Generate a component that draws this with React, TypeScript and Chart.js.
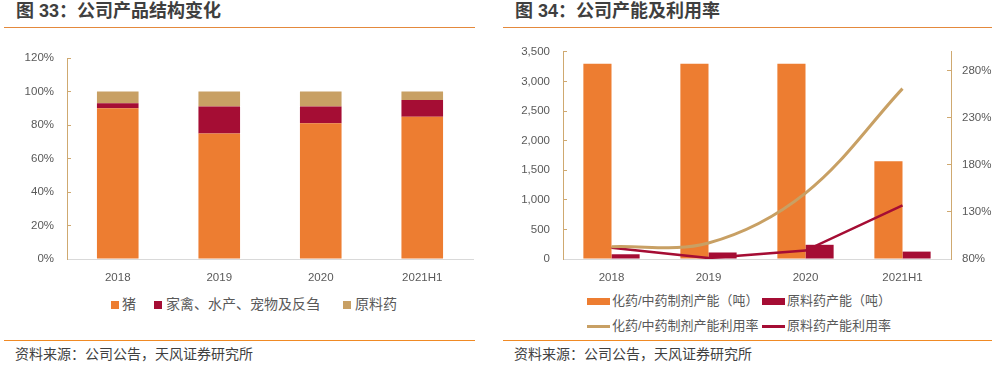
import React, { useEffect, useRef } from 'react';
import { Chart, registerables } from 'chart.js';

Chart.register(...registerables);

// ---------- Data: 图 33 公司产品结构变化 ----------
const structureCategories = ['2018', '2019', '2020', '2021H1'];
const pigShare = [90, 75, 81, 85];
const poultryEtcShare = [3, 16, 10, 10];
const apiShare = [7, 9, 9, 5];
const shareTickValues = [0, 20, 40, 60, 80, 100, 120];

// ---------- Data: 图 34 公司产能及利用率 ----------
const capacityCategories = ['2018', '2019', '2020', '2021H1'];
const prepCapacity = [3300, 3300, 3300, 1650];
const apiCapacity = [80, 110, 240, 125];
const prepUtilization = [93, 97, 150, 261];
const apiUtilization = [92, 81, 89, 137];
const capacityTickValues = [0, 500, 1000, 1500, 2000, 2500, 3000, 3500];
const utilizationTickValues = [80, 130, 180, 230, 280];

const ORANGE = '#ED7D31';
const RED = '#A50D34';
const TAN = '#C8A064';
const AXIS_TAN = '#CFA970';
const TEXT = '#595959';
const TICK_FONT = { family: '"Liberation Sans", Arial, sans-serif', size: 11.5 };
const CJK = '"Liberation Sans", "Noto Sans CJK SC", sans-serif';

function StructureChart() {
  const ref = useRef<HTMLCanvasElement | null>(null);
  useEffect(() => {
    if (!ref.current) return;
    const chart = new Chart(ref.current, {
      type: 'bar',
      data: {
        labels: structureCategories,
        datasets: [
          { label: '猪', data: pigShare, backgroundColor: ORANGE, borderWidth: 0 },
          { label: '家禽、水产、宠物及反刍', data: poultryEtcShare, backgroundColor: RED, borderWidth: 0 },
          { label: '原料药', data: apiShare, backgroundColor: TAN, borderWidth: 0 },
        ],
      },
      options: {
        responsive: false,
        animation: false,
        layout: { padding: { top: 30, right: 26, left: 0, bottom: 0 } },
        plugins: { legend: { display: false }, tooltip: { enabled: false } },
        datasets: { bar: { categoryPercentage: 1, barPercentage: 0.41 } },
        scales: {
          x: {
            stacked: true,
            grid: { display: false },
            border: { display: true, color: '#D9D9D9', width: 1 },
            ticks: { color: TEXT, font: TICK_FONT, padding: 4 },
            afterFit: (s: any) => { s.height = 31; },
          },
          y: {
            stacked: true,
            min: 0,
            max: 120,
            afterBuildTicks: (s: any) => { s.ticks = shareTickValues.map((v) => ({ value: v })); },
            grid: { drawOnChartArea: false, drawTicks: true, tickLength: -4, color: AXIS_TAN },
            border: { display: true, color: AXIS_TAN, width: 1 },
            ticks: { color: TEXT, font: TICK_FONT, padding: 17, callback: (v: any) => v + '%' },
            afterFit: (s: any) => { s.width = 67; },
          },
        },
      },
    });
    return () => chart.destroy();
  }, []);
  return <canvas ref={ref} width={499} height={262} style={{ position: 'absolute', left: 0, top: 28 }} />;
}

function CapacityChart() {
  const ref = useRef<HTMLCanvasElement | null>(null);
  useEffect(() => {
    if (!ref.current) return;
    const chart = new Chart(ref.current, {
      type: 'bar',
      data: {
        labels: capacityCategories,
        datasets: [
          { type: 'bar', label: '化药/中药制剂产能（吨）', data: prepCapacity, backgroundColor: ORANGE, borderWidth: 0, yAxisID: 'y', order: 1 },
          { type: 'bar', label: '原料药产能（吨）', data: apiCapacity, backgroundColor: RED, borderWidth: 0, yAxisID: 'y', order: 1 },
          { type: 'line', label: '化药/中药制剂产能利用率', data: prepUtilization, borderColor: TAN, backgroundColor: TAN, borderWidth: 3, pointRadius: 0, tension: 0.35, yAxisID: 'y1', order: 0 },
          { type: 'line', label: '原料药产能利用率', data: apiUtilization, borderColor: RED, backgroundColor: RED, borderWidth: 2.5, pointRadius: 0, tension: 0, yAxisID: 'y1', order: 0 },
        ] as any,
      },
      options: {
        responsive: false,
        animation: false,
        layout: { padding: { top: 15, right: 0, left: 0, bottom: 0 } },
        plugins: { legend: { display: false }, tooltip: { enabled: false } },
        datasets: { bar: { categoryPercentage: 0.58, barPercentage: 1 } },
        scales: {
          x: {
            grid: { display: false },
            border: { display: true, color: '#D9D9D9', width: 1 },
            ticks: { color: TEXT, font: TICK_FONT, padding: 4 },
            afterFit: (s: any) => { s.height = 31; },
          },
          y: {
            position: 'left',
            min: 0,
            max: 3500,
            afterBuildTicks: (s: any) => { s.ticks = capacityTickValues.map((v) => ({ value: v })); },
            grid: { drawOnChartArea: false, drawTicks: true, tickLength: -4, color: AXIS_TAN },
            border: { display: true, color: AXIS_TAN, width: 1 },
            ticks: { color: TEXT, font: TICK_FONT, padding: 17, callback: (v: any) => Number(v).toLocaleString('en-US') },
            afterFit: (s: any) => { s.width = 64; },
          },
          y1: {
            position: 'right',
            min: 80,
            max: 300,
            afterBuildTicks: (s: any) => { s.ticks = utilizationTickValues.map((v) => ({ value: v })); },
            grid: { drawOnChartArea: false, drawTicks: true, tickLength: -4, color: AXIS_TAN },
            border: { display: true, color: AXIS_TAN, width: 1 },
            ticks: { color: TEXT, font: TICK_FONT, padding: 15, callback: (v: any) => v + '%' },
            afterFit: (s: any) => { s.width = 47; },
          },
        },
      },
    });
    return () => chart.destroy();
  }, []);
  return <canvas ref={ref} width={499} height={262} style={{ position: 'absolute', left: 499, top: 28 }} />;
}

const abs = (left: number, top: number, extra: React.CSSProperties = {}): React.CSSProperties => ({
  position: 'absolute', left, top, ...extra,
});

function Text({ x, y, children, size = 14, color = TEXT, bold = false }: any) {
  return (
    <div style={abs(x, y - size * 0.7, { fontFamily: CJK, fontSize: size, lineHeight: `${size * 1.4}px`, color, fontWeight: bold ? 700 : 400, whiteSpace: 'nowrap' })}>
      {children}
    </div>
  );
}

function Swatch({ x, y, w, h, color }: any) {
  return <div style={abs(x, y - h / 2, { width: w, height: h, background: color })} />;
}

export default function App() {
  return (
    <div style={{ position: 'fixed', left: 0, top: 0, width: 998, height: 368, background: '#fff', overflow: 'hidden' }}>
      {/* Titles */}
      <Text x={16} y={12} size={18} color="#3F3F3F" bold>图 33：公司产品结构变化</Text>
      <Text x={515} y={12} size={18} color="#3F3F3F" bold>图 34：公司产能及利用率</Text>
      <div style={abs(4, 27, { width: 471, height: 1, background: '#E4893C' })} />
      <div style={abs(503, 27, { width: 489, height: 1, background: '#E4893C' })} />

      <StructureChart />
      <CapacityChart />

      {/* Left legend */}
      <Swatch x={111} y={305} w={8} h={8} color={ORANGE} />
      <Text x={122} y={305}>猪</Text>
      <Swatch x={154} y={305} w={8} h={8} color={RED} />
      <Text x={166} y={305}>家禽、水产、宠物及反刍</Text>
      <Swatch x={343} y={305} w={8} h={8} color={TAN} />
      <Text x={355} y={305}>原料药</Text>

      {/* Right legend */}
      <Swatch x={587} y={301} w={23} h={7} color={ORANGE} />
      <Text x={612} y={301} size={13}>化药/中药制剂产能（吨）</Text>
      <Swatch x={762} y={301} w={23} h={7} color={RED} />
      <Text x={787} y={301} size={13}>原料药产能（吨）</Text>
      <Swatch x={587} y={326} w={23} h={3} color={TAN} />
      <Text x={612} y={326} size={13}>化药/中药制剂产能利用率</Text>
      <Swatch x={762} y={326} w={23} h={3} color={RED} />
      <Text x={787} y={326} size={13}>原料药产能利用率</Text>

      {/* Footers */}
      <div style={abs(4, 340, { width: 471, height: 1, background: '#F08A24' })} />
      <div style={abs(503, 340, { width: 489, height: 1, background: '#F08A24' })} />
      <Text x={15} y={355} color="#3F3F3F">资料来源：公司公告，天风证券研究所</Text>
      <Text x={514} y={355} color="#3F3F3F">资料来源：公司公告，天风证券研究所</Text>
    </div>
  );
}
